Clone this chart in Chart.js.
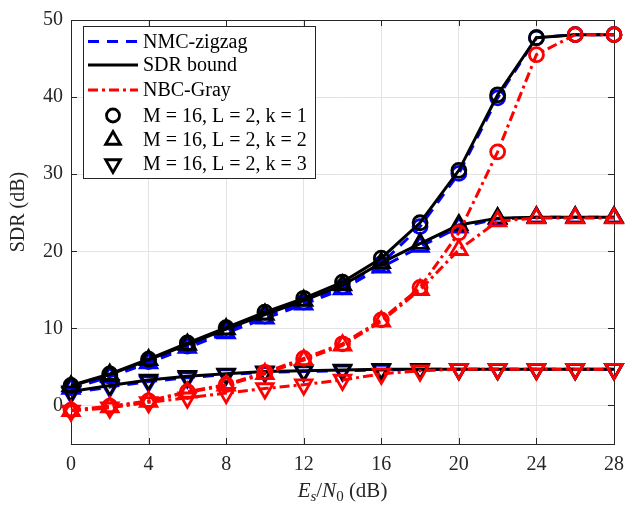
<!DOCTYPE html>
<html>
<head>
<meta charset="utf-8">
<script src="https://cdn.jsdelivr.net/npm/chart.js@4.4.1/dist/chart.umd.min.js"></script>
<style>
  body { margin: 0; background: #fff; }
  #wrap { width: 633px; height: 505px; position: relative; }
</style>
</head>
<body>
<div id="wrap"><canvas id="sdrChart"></canvas></div>
<script>
const snr = [0, 2, 4, 6, 8, 10, 12, 14, 16, 18, 20, 22, 24, 26, 28];
const xTickValues = [0, 4, 8, 12, 16, 20, 24, 28];
const yTickValues = [0, 10, 20, 30, 40, 50];

// NMC-zigzag (blue dashed)
const zigzagK1 = [2.3, 3.8, 5.7, 7.7, 9.7, 11.6, 13.4, 15.4, 18.4, 23.2, 30.1, 39.9, 47.7, 48.1, 48.1];
const zigzagK2 = [2.2, 3.7, 5.5, 7.5, 9.4, 11.3, 13.1, 15.1, 17.9, 20.6, 23.1, 24.2, 24.4, 24.4, 24.4];
const zigzagK3 = [1.6, 2.4, 3.1, 3.6, 4.0, 4.3, 4.4, 4.5, 4.6, 4.7, 4.7, 4.7, 4.7, 4.7, 4.7];

// SDR bound (black solid)
const boundK1 = [2.6, 4.1, 6.0, 8.1, 10.1, 12.1, 13.9, 16.0, 19.1, 23.7, 30.5, 40.3, 47.7, 48.1, 48.1];
const boundK2 = [2.5, 4.0, 5.9, 7.9, 9.9, 11.8, 13.6, 15.6, 18.5, 21.0, 23.4, 24.3, 24.4, 24.4, 24.4];
const boundK3 = [1.8, 2.6, 3.3, 3.8, 4.1, 4.4, 4.5, 4.6, 4.7, 4.7, 4.7, 4.7, 4.7, 4.7, 4.7];

// NBC-Gray (red dash-dot)
const grayK1 = [-0.6, -0.1, 0.6, 1.8, 2.7, 4.3, 6.1, 8.0, 11.1, 15.3, 22.4, 32.9, 45.5, 48.1, 48.1];
const grayK2 = [-0.7, -0.2, 0.5, 1.7, 2.6, 4.1, 5.9, 7.8, 10.9, 15.0, 20.2, 23.9, 24.3, 24.3, 24.3];
const grayK3 = [-0.7, -0.3, 0.4, 1.0, 1.6, 2.2, 2.7, 3.3, 4.1, 4.5, 4.7, 4.7, 4.7, 4.7, 4.7];

const lineNames = ['NMC-zigzag', 'SDR bound', 'NBC-Gray'];
const markerNames = ['M = 16, L = 2, k = 1', 'M = 16, L = 2, k = 2', 'M = 16, L = 2, k = 3'];

const FONT = '"Liberation Serif", "Times New Roman", serif';
const AXIS_COLOR = '#262626';

const lineStyles = [
  { color: '#0000ff', dash: [11, 8], order: 3 },
  { color: '#000000', dash: [], order: 2 },
  { color: '#ff0000', dash: [10, 4, 3, 4], order: 1 }
];
const markerStyles = [
  { style: 'circle', rot: 0, r: 7 },
  { style: 'triangle', rot: 0, r: 9.5 },
  { style: 'triangle', rot: 180, r: 9.5 }
];

function makeSet(values, ls, ms) {
  return {
    data: snr.map((x, i) => ({ x: x, y: values[i] })),
    showLine: true,
    borderColor: ls.color,
    borderWidth: 3,
    borderDash: ls.dash,
    pointStyle: ms.style,
    rotation: ms.rot,
    pointRadius: ms.r,
    pointHoverRadius: ms.r,
    pointBorderWidth: 2.8,
    pointBorderColor: ls.color,
    pointBackgroundColor: 'rgba(0,0,0,0)',
    clip: false,
    order: ls.order,
    tension: 0
  };
}

const seriesTable = [
  [zigzagK1, zigzagK2, zigzagK3],
  [boundK1, boundK2, boundK3],
  [grayK1, grayK2, grayK3]
];
const datasets = [];
seriesTable.forEach((group, li) => {
  group.forEach((vals, mi) => datasets.push(makeSet(vals, lineStyles[li], markerStyles[mi])));
});

function drawMarker(ctx, ms, x, y, r) {
  ctx.beginPath();
  if (ms.style === 'circle') {
    ctx.arc(x, y, r, 0, Math.PI * 2);
  } else {
    let rad = ms.rot * Math.PI / 180;
    for (let i = 0; i < 3; i++) {
      const px = x + Math.sin(rad) * r;
      const py = y - Math.cos(rad) * r;
      if (i === 0) ctx.moveTo(px, py); else ctx.lineTo(px, py);
      rad += Math.PI * 2 / 3;
    }
    ctx.closePath();
  }
  ctx.stroke();
}

const framePlugin = {
  id: 'frame',
  beforeDatasetsDraw(chart) {
    const { ctx, chartArea: a, scales } = chart;
    ctx.save();
    ctx.strokeStyle = AXIS_COLOR;
    ctx.lineWidth = 1;
    ctx.strokeRect(a.left + 0.5, a.top + 0.5, a.right - a.left, a.bottom - a.top);
    ctx.beginPath();
    xTickValues.forEach(v => {
      const px = Math.round(scales.x.getPixelForValue(v)) + 0.5;
      ctx.moveTo(px, a.bottom); ctx.lineTo(px, a.bottom - 6);
      ctx.moveTo(px, a.top); ctx.lineTo(px, a.top + 6);
    });
    yTickValues.forEach(v => {
      const py = Math.round(scales.y.getPixelForValue(v)) + 0.5;
      ctx.moveTo(a.left, py); ctx.lineTo(a.left + 6, py);
      ctx.moveTo(a.right, py); ctx.lineTo(a.right - 6, py);
    });
    ctx.stroke();
    ctx.restore();
  },
  afterDraw(chart) {
    const { ctx, chartArea: a } = chart;
    ctx.save();

    // y title
    ctx.fillStyle = AXIS_COLOR;
    ctx.font = '20px ' + FONT;
    ctx.textAlign = 'center';
    ctx.textBaseline = 'middle';
    ctx.translate(19, 212);
    ctx.rotate(-Math.PI / 2);
    ctx.fillText('SDR (dB)', 0, 0);
    ctx.setTransform(1, 0, 0, 1, 0, 0);

    // x title: E_s/N_0 (dB)
    const parts = [
      { t: 'E', f: 'italic 21px ' + FONT, dy: 0 },
      { t: 's', f: 'italic 15px ' + FONT, dy: 4 },
      { t: '/', f: '21px ' + FONT, dy: 0 },
      { t: 'N', f: 'italic 21px ' + FONT, dy: 0 },
      { t: '0', f: '15px ' + FONT, dy: 4 },
      { t: ' (dB)', f: '21px ' + FONT, dy: 0 }
    ];
    ctx.textAlign = 'left';
    ctx.textBaseline = 'alphabetic';
    let total = 0;
    parts.forEach(p => { ctx.font = p.f; p.w = ctx.measureText(p.t).width; total += p.w; });
    let cx = (a.left + a.right) / 2 - total / 2;
    parts.forEach(p => { ctx.font = p.f; ctx.fillText(p.t, cx, 497 + p.dy); cx += p.w; });

    // legend
    const bx = 83, by = 26, bw = 232, bh = 152;
    ctx.fillStyle = '#ffffff';
    ctx.fillRect(bx, by, bw, bh);
    ctx.strokeStyle = AXIS_COLOR;
    ctx.lineWidth = 1;
    ctx.strokeRect(bx + 0.5, by + 0.5, bw, bh);
    const rows = [41.5, 65, 90, 115.5, 140, 164];
    ctx.font = '20px ' + FONT;
    ctx.textBaseline = 'middle';
    lineNames.forEach((name, i) => {
      ctx.strokeStyle = lineStyles[i].color;
      ctx.lineWidth = 3;
      ctx.setLineDash(lineStyles[i].dash);
      ctx.beginPath();
      ctx.moveTo(88, rows[i]); ctx.lineTo(138, rows[i]);
      ctx.stroke();
      ctx.setLineDash([]);
      ctx.fillStyle = '#000';
      ctx.fillText(name, 143, rows[i] + 1);
    });
    markerNames.forEach((name, i) => {
      ctx.strokeStyle = '#000';
      ctx.lineWidth = 2.8;
      drawMarker(ctx, markerStyles[i], 113, rows[3 + i], i === 0 ? 6.5 : 8.5);
      ctx.fillStyle = '#000';
      ctx.fillText(name, 143, rows[3 + i] + 1);
    });
    ctx.restore();
  }
};

new Chart(document.getElementById('sdrChart'), {
  type: 'scatter',
  data: { datasets: datasets },
  options: {
    responsive: true,
    maintainAspectRatio: false,
    animation: false,
    events: [],
    layout: { padding: { left: 0, top: 14, right: 10, bottom: 0 } },
    plugins: { legend: { display: false }, tooltip: { enabled: false } },
    scales: {
      x: {
        type: 'linear',
        min: 0,
        max: 28,
        afterBuildTicks: s => { s.ticks = xTickValues.map(v => ({ value: v })); },
        afterFit: s => { s.height = 61; },
        ticks: { color: AXIS_COLOR, font: { family: FONT, size: 20 }, padding: 9, maxRotation: 0 },
        grid: { color: '#e3e3e3', drawTicks: false },
        border: { display: false }
      },
      y: {
        type: 'linear',
        min: -5,
        max: 50,
        afterBuildTicks: s => { s.ticks = yTickValues.map(v => ({ value: v })); },
        afterFit: s => { s.width = 71; },
        ticks: { color: AXIS_COLOR, font: { family: FONT, size: 20 }, padding: 8 },
        grid: { color: '#e3e3e3', drawTicks: false },
        border: { display: false }
      }
    }
  },
  plugins: [framePlugin]
});
</script>
</body>
</html>
